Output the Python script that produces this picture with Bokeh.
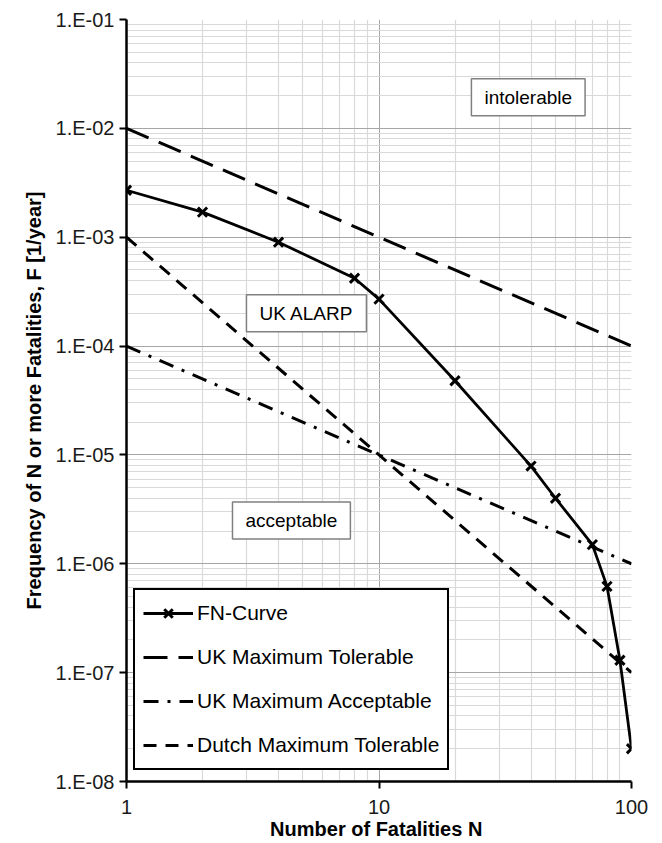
import numpy as np
from bokeh.plotting import figure
from bokeh.models import (Range1d, FixedTicker, CustomJSTickFormatter, Label, Legend, LegendItem)
from bokeh.embed import file_html
from bokeh.resources import INLINE

# FN curve data
fn_N = [1, 2, 4, 8, 10, 20, 40, 50, 70, 80, 90, 100]
fn_F = [2.7e-3, 1.7e-3, 9.0e-4, 4.2e-4, 2.7e-4, 4.8e-5, 7.9e-6, 4.0e-6, 1.5e-6, 6.2e-7, 1.3e-7, 2.0e-8]

# Criteria lines (end points)
crit_N = [1, 100]
uk_tol_F = [1e-2, 1e-4]
uk_acc_F = [1e-4, 1e-6]
dutch_tol_F = [1e-3, 1e-7]

x_major = [1, 10, 100]
y_major = [1e-8, 1e-7, 1e-6, 1e-5, 1e-4, 1e-3, 1e-2, 1e-1]

FONT = "Liberation Sans"

x_minor = [m * d for d in (1, 10) for m in range(2, 10)]
y_minor = [m * d for d in y_major[:-1] for m in range(2, 10)]

p = figure(width=662, height=843, x_axis_type="log", y_axis_type="log",
           x_range=Range1d(1, 100), y_range=Range1d(1e-8, 1e-1),
           output_backend="svg", toolbar_location=None,
           min_border_left=126, min_border_right=31, min_border_top=19, min_border_bottom=62)
p.outline_line_color = None
p.background_fill_color = "white"

for ax, maj, mnr in ((p.xaxis[0], x_major, x_minor), (p.yaxis[0], y_major, y_minor)):
    ax.ticker = FixedTicker(ticks=maj, minor_ticks=mnr)
    ax.axis_line_color = "black"
    ax.axis_line_width = 2.5
    ax.major_tick_line_color = "black"
    ax.major_tick_line_width = 2
    ax.major_tick_out = 7
    ax.major_tick_in = 0
    ax.minor_tick_line_color = None
    ax.major_label_text_font = FONT
    ax.major_label_text_font_size = "20px"
    ax.major_label_text_color = "#1a1a1a"
    ax.axis_label_text_font = FONT
    ax.axis_label_text_font_style = "bold"
    ax.axis_label_text_font_size = "20px"
    ax.axis_label_text_color = "black"

p.xaxis[0].major_label_standoff = 11
p.xaxis[0].axis_label = "Number of Fatalities  N"
p.xaxis[0].axis_label_standoff = 1
p.yaxis[0].axis_label = "Frequency of N or more Fatalities, F [1/year]"
p.yaxis[0].major_label_standoff = 5
p.yaxis[0].axis_label_standoff = 8
p.yaxis[0].formatter = CustomJSTickFormatter(code="""
const e = Math.round(Math.log10(tick));
const s = String(Math.abs(e)).padStart(2, '0');
return '1.E' + (e < 0 ? '-' : '+') + s;
""")
p.xaxis[0].formatter = CustomJSTickFormatter(code="return String(Math.round(tick));")

for g in p.grid:
    g.grid_line_color = "#a6a6a6"
    g.grid_line_width = 1
    g.minor_grid_line_color = "#d9d9d9"
    g.minor_grid_line_width = 1.2

r_tol = p.line(crit_N, uk_tol_F, line_color="black", line_width=3, line_dash="24 11")
r_acc = p.line(crit_N, uk_acc_F, line_color="black", line_width=3, line_dash="15 9 3 9")
r_dut = p.line(crit_N, dutch_tol_F, line_color="black", line_width=3, line_dash="13 9")
r_fn = p.line(fn_N, fn_F, line_color="black", line_width=2.8)
r_fnm = p.scatter(fn_N, fn_F, marker="x", size=13, line_color="black", line_width=3)

legend = Legend(items=[
    LegendItem(label="FN-Curve", renderers=[r_fn, r_fnm]),
    LegendItem(label="UK Maximum Tolerable", renderers=[r_tol]),
    LegendItem(label="UK Maximum Acceptable", renderers=[r_acc]),
    LegendItem(label="Dutch Maximum Tolerable", renderers=[r_dut]),
], location=(7, 11))
legend.border_line_color = "black"
legend.border_line_alpha = 1
legend.border_line_width = 2.5
legend.background_fill_color = "white"
legend.background_fill_alpha = 1
legend.label_text_font = FONT
legend.label_text_font_size = "21px"
legend.label_text_color = "black"
legend.glyph_width = 50
legend.glyph_height = 30
legend.label_height = 30
legend.spacing = 14
legend.padding = 8
legend.margin = 0
legend.label_standoff = 4
p.add_layout(legend, "center")

box_labels = [("intolerable", 39, 0.0193), ("UK ALARP", 5.16, 2.0e-4), ("acceptable", 4.5, 2.5e-6)]
for txt, lx, ly in box_labels:
    p.add_layout(Label(x=lx, y=ly, text=txt, text_align="center", text_baseline="middle",
                       text_font=FONT, text_font_size="19px", text_color="black",
                       border_line_color="#808080", border_line_width=1.5,
                       background_fill_color="white", background_fill_alpha=1,
                       padding=dict(left=13, right=13, top=8, bottom=8)))

open("out.html", "w").write(file_html(p, INLINE))
